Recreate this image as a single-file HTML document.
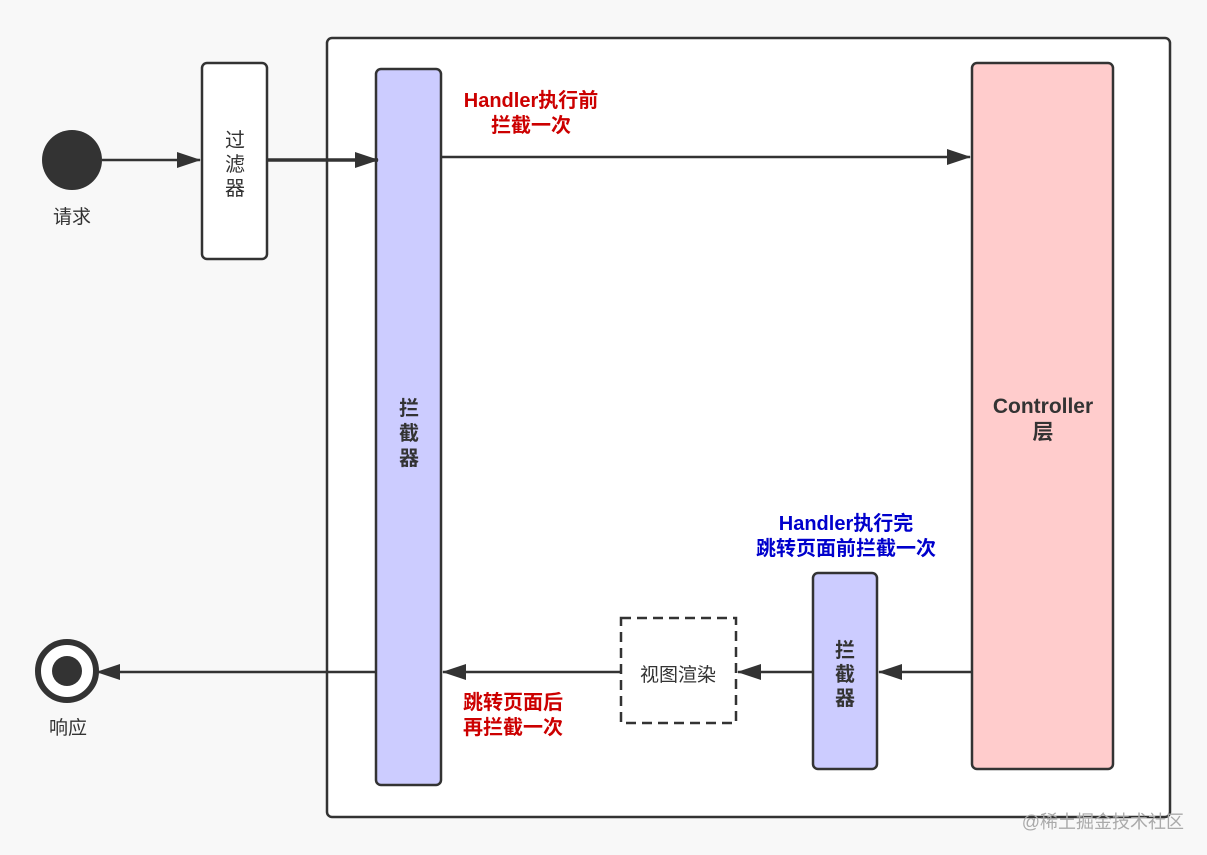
<!DOCTYPE html>
<html><head><meta charset="utf-8"><style>
html,body{margin:0;padding:0;background:#f8f8f8;}
svg{display:block;font-family:"Liberation Sans","Noto Sans CJK SC",sans-serif;}
</style></head><body>
<svg width="1207" height="855" viewBox="0 0 1207 855" xmlns="http://www.w3.org/2000/svg">
<defs>
<marker id="b" markerWidth="24" markerHeight="16" refX="23" refY="8" orient="auto" markerUnits="userSpaceOnUse"><path d="M0,0 L24,8 L0,16 z" fill="#333"/></marker>
</defs>
<rect x="0" y="0" width="1207" height="855" fill="#f8f8f8"/>
<rect x="327" y="38" width="843" height="779" rx="5" fill="#fff" stroke="#333" stroke-width="2.5"/>
<circle cx="72" cy="160" r="30" fill="#333"/>
<text x="72" y="223" font-size="19" fill="#333" text-anchor="middle">请求</text>
<rect x="202" y="63" width="65" height="196" rx="5" fill="#fff" stroke="#333" stroke-width="2.5"/>
<text x="235" y="147" font-size="20" fill="#333" text-anchor="middle">过</text>
<text x="235" y="171" font-size="20" fill="#333" text-anchor="middle">滤</text>
<text x="235" y="195" font-size="20" fill="#333" text-anchor="middle">器</text>
<rect x="376" y="69" width="65" height="716" rx="5" fill="#ccccff" stroke="#333" stroke-width="2.5"/>
<text x="409" y="415" font-size="20" font-weight="bold" fill="#333" text-anchor="middle">拦</text>
<text x="409" y="440" font-size="20" font-weight="bold" fill="#333" text-anchor="middle">截</text>
<text x="409" y="465" font-size="20" font-weight="bold" fill="#333" text-anchor="middle">器</text>
<rect x="972" y="63" width="141" height="706" rx="5" fill="#ffcccc" stroke="#333" stroke-width="2.5"/>
<text x="1043" y="413" font-size="21" font-weight="bold" fill="#333" text-anchor="middle">Controller</text>
<text x="1043" y="439" font-size="21" font-weight="bold" fill="#333" text-anchor="middle">层</text>
<rect x="813" y="573" width="64" height="196" rx="5" fill="#ccccff" stroke="#333" stroke-width="2.5"/>
<text x="845" y="657" font-size="20" font-weight="bold" fill="#333" text-anchor="middle">拦</text>
<text x="845" y="681" font-size="20" font-weight="bold" fill="#333" text-anchor="middle">截</text>
<text x="845" y="705" font-size="20" font-weight="bold" fill="#333" text-anchor="middle">器</text>
<rect x="621" y="618" width="115" height="105" fill="#fff" stroke="#333" stroke-width="2.5" stroke-dasharray="10,6"/>
<text x="678" y="681" font-size="19" fill="#333" text-anchor="middle">视图渲染</text>
<circle cx="67" cy="671" r="29" fill="#fff" stroke="#333" stroke-width="6"/>
<circle cx="67" cy="671" r="15" fill="#333"/>
<text x="68" y="734" font-size="19" fill="#333" text-anchor="middle">响应</text>
<g stroke="#333" stroke-width="2.5" fill="none">
<line x1="102" y1="160" x2="200" y2="160" marker-end="url(#b)"/>
<line x1="267" y1="160" x2="378" y2="160" stroke-width="3.5" marker-end="url(#b)"/>
<line x1="441" y1="157" x2="970" y2="157" marker-end="url(#b)"/>
<line x1="972" y1="672" x2="879" y2="672" marker-end="url(#b)"/>
<line x1="813" y1="672" x2="738" y2="672" marker-end="url(#b)"/>
<line x1="621" y1="672" x2="443" y2="672" marker-end="url(#b)"/>
<line x1="376" y1="672" x2="97" y2="672" marker-end="url(#b)"/>
</g>
<g font-size="20" font-weight="bold" text-anchor="middle">
<text x="531" y="107" fill="#cc0000">Handler执行前</text>
<text x="531" y="132" fill="#cc0000">拦截一次</text>
<text x="846" y="530" fill="#0000cc">Handler执行完</text>
<text x="846" y="555" fill="#0000cc">跳转页面前拦截一次</text>
<text x="513" y="709" fill="#cc0000">跳转页面后</text>
<text x="513" y="734" fill="#cc0000">再拦截一次</text>
</g>
<text x="1184" y="828" font-size="18" fill="#aaa" text-anchor="end">@稀土掘金技术社区</text>
</svg>
</body></html>
